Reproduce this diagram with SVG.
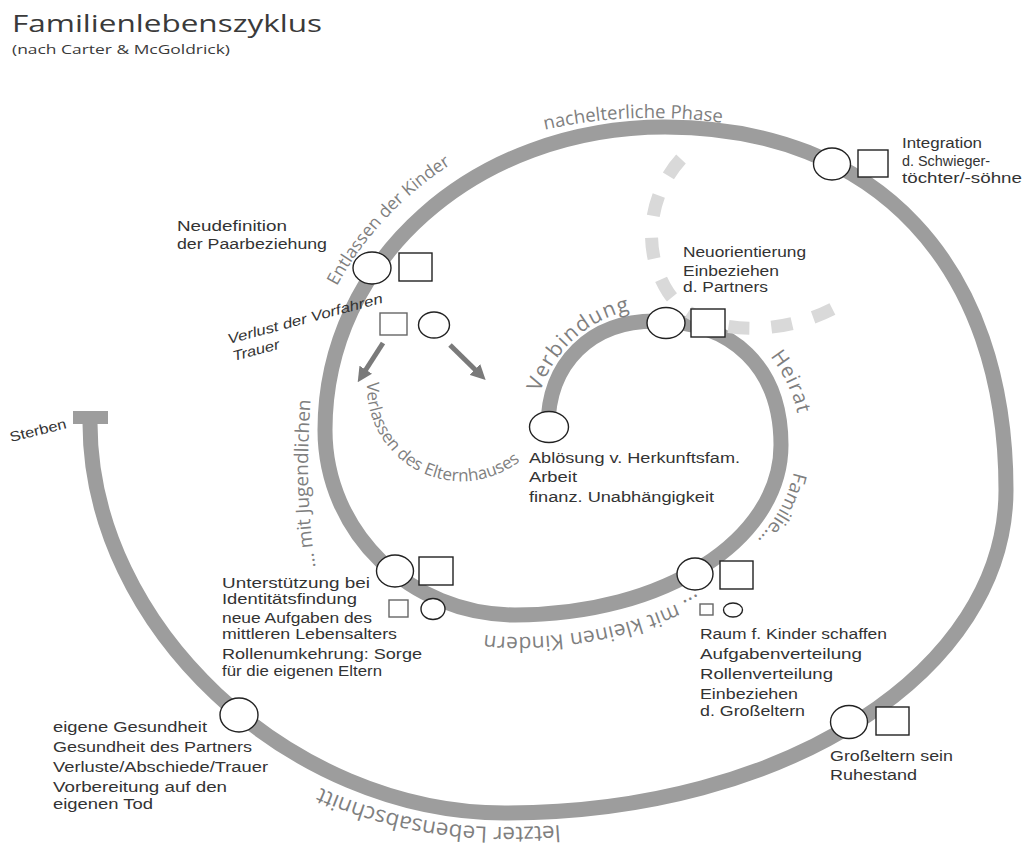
<svg xmlns="http://www.w3.org/2000/svg" width="1026" height="850" viewBox="0 0 1026 850">
<defs>
<style>
.sp{fill:none;stroke:#9d9d9d;stroke-width:15}
.dash{fill:none;stroke:#d9d9d9;stroke-width:13;stroke-dasharray:21 22}
.arr{stroke:#7a7a7a;stroke-width:5;fill:none}
.sym{fill:#fff;stroke:#222;stroke-width:1.4}
.sym2{fill:#fff;stroke:#666;stroke-width:1.4}
.t{font-family:"Liberation Sans",Arial,sans-serif;font-size:14px;fill:#333}
.c{font-family:"Open Sans","Liberation Sans",sans-serif;fill:#7f7f7f}
</style>
<marker id="ah" viewBox="0 0 10 10" refX="1" refY="5" markerWidth="3" markerHeight="3" orient="auto"><path d="M0,0 L10,5 L0,10 z" fill="#7a7a7a"/></marker>
<path id="pVerb" d="M 540.3 392.2 A 120 119 0 0 1 655 308"/>
<path id="pHeir" d="M 770 356.3 A 146 144 0 0 1 800.4 432.4"/>
<path id="pFam" d="M 793.9 472 A 282 186 0 0 1 731 564.6"/>
<path id="pKlein" d="M 707.7 587.7 A 288 192 0 0 1 515 637 A 212 207 0 0 1 393.4 599.5"/>
<path id="pJug" d="M 316 570 C 308 520, 305 460, 312 385"/>
<path id="pEntl" d="M 336.9 286.2 A 365 328 0 0 1 540.2 121.8"/>
<path id="pNach" d="M 540 131 Q 632 109 730 124"/>
<path id="pLetzt" d="M 560 825 A 515 337 0 0 1 505 827 A 429 404 0 0 1 300 778"/>
<path id="pVerl" d="M 367.2 380 A 94.5 94.5 0 0 0 538.8 441.1"/>
</defs>
<rect width="1026" height="850" fill="#fff"/>

<g id="title">
<text x="12" y="32" font-family="Open Sans, Liberation Sans, sans-serif" font-size="23" fill="#3a3a3a" textLength="310" lengthAdjust="spacingAndGlyphs">Familienlebenszyklus</text>
<text x="12" y="54" font-family="Open Sans, Liberation Sans, sans-serif" font-size="12.5" fill="#3a3a3a" textLength="218" lengthAdjust="spacingAndGlyphs">(nach Carter &amp; McGoldrick)</text>
</g>

<g id="connectors">
<path class="sp" d="M 548 427 C 548 363, 591 321, 655 321 C 733 321, 781 368, 781 445 C 781 540, 664 615, 515 615 C 410 615, 325 532, 325 430 C 325 260, 475 127, 665 127 C 876 127, 1006 265, 1006 490 C 1006 671, 786 813, 505 813 C 289 813, 90 626, 90 423"/>
<path class="dash" d="M 681 159 C 650 193, 640 248, 668 292 C 700 340, 790 338, 848 300"/>
<line class="arr" x1="383" y1="343" x2="365" y2="371" marker-end="url(#ah)"/>
<line class="arr" x1="450" y1="345" x2="476" y2="370.5" marker-end="url(#ah)"/>
</g>

<g id="phase-labels">
<text class="c" font-size="21" letter-spacing="1.4"><textPath href="#pVerb">Verbindung</textPath></text>
<text class="c" font-size="20.5" letter-spacing="1"><textPath href="#pHeir">Heirat</textPath></text>
<text class="c" font-size="19"><textPath href="#pFam">Familie...</textPath></text>
<text class="c" font-size="21" letter-spacing="0.3"><textPath href="#pKlein" startOffset="12">... mit kleinen Kindern</textPath></text>
<text class="c" font-size="19"><textPath href="#pJug" startOffset="3">... mit Jugendlichen</textPath></text>
<text class="c" font-size="17.5"><textPath href="#pEntl">Entlassen der Kinder</textPath></text>
<text class="c" font-size="18.5"><textPath href="#pNach" startOffset="5">nachelterliche Phase</textPath></text>
<text class="c" font-size="22.5"><textPath href="#pLetzt">letzter Lebensabschnitt</textPath></text>
<text class="c" font-size="17"><textPath href="#pVerl" startOffset="2">Verlassen des Elternhauses</textPath></text>
</g>

<g id="node-start">
<ellipse class="sym" cx="549" cy="427" rx="19.5" ry="15.5"/>
<text class="t" x="529" y="463" textLength="211" lengthAdjust="spacingAndGlyphs">Ablösung v. Herkunftsfam.</text>
<text class="t" x="529" y="482" textLength="48" lengthAdjust="spacingAndGlyphs">Arbeit</text>
<text class="t" x="529" y="502" textLength="185" lengthAdjust="spacingAndGlyphs">finanz. Unabhängigkeit</text>
</g>

<g id="node-verbindung">
<ellipse class="sym" cx="666" cy="323" rx="19" ry="15.5"/>
<rect class="sym" x="691" y="309" width="34" height="28"/>
<text class="t" x="683" y="257" textLength="123" lengthAdjust="spacingAndGlyphs">Neuorientierung</text>
<text class="t" x="683" y="276" textLength="96" lengthAdjust="spacingAndGlyphs">Einbeziehen</text>
<text class="t" x="683" y="292" textLength="85" lengthAdjust="spacingAndGlyphs">d. Partners</text>
</g>

<g id="node-kleine-kinder">
<ellipse class="sym" cx="695" cy="574" rx="18" ry="16"/>
<rect class="sym" x="720" y="561" width="33" height="28"/>
<rect class="sym2" x="700" y="604" width="13" height="11"/>
<ellipse class="sym" cx="733" cy="610" rx="9.5" ry="7"/>
<text class="t" x="700" y="639" textLength="187" lengthAdjust="spacingAndGlyphs">Raum f. Kinder schaffen</text>
<text class="t" x="700" y="659" textLength="162" lengthAdjust="spacingAndGlyphs">Aufgabenverteilung</text>
<text class="t" x="700" y="679" textLength="133" lengthAdjust="spacingAndGlyphs">Rollenverteilung</text>
<text class="t" x="700" y="699" textLength="98" lengthAdjust="spacingAndGlyphs">Einbeziehen</text>
<text class="t" x="700" y="716" textLength="105" lengthAdjust="spacingAndGlyphs">d. Großeltern</text>
</g>

<g id="node-jugendliche">
<ellipse class="sym" cx="395" cy="571" rx="18.5" ry="16"/>
<rect class="sym" x="419" y="557" width="34" height="28"/>
<rect class="sym2" x="389" y="600" width="19" height="17"/>
<ellipse class="sym" cx="433" cy="609" rx="12" ry="10.5"/>
<text class="t" x="222" y="588" textLength="148" lengthAdjust="spacingAndGlyphs">Unterstützung bei</text>
<text class="t" x="222" y="604" textLength="135" lengthAdjust="spacingAndGlyphs">Identitätsfindung</text>
<text class="t" x="222" y="623" textLength="150" lengthAdjust="spacingAndGlyphs">neue Aufgaben des</text>
<text class="t" x="222" y="639" textLength="175" lengthAdjust="spacingAndGlyphs">mittleren Lebensalters</text>
<text class="t" x="222" y="659" textLength="200" lengthAdjust="spacingAndGlyphs">Rollenumkehrung: Sorge</text>
<text class="t" x="222" y="676" textLength="160" lengthAdjust="spacingAndGlyphs">für die eigenen Eltern</text>
</g>

<g id="node-entlassen">
<ellipse class="sym" cx="372" cy="268" rx="19" ry="16"/>
<rect class="sym" x="399" y="253" width="33" height="28"/>
<text class="t" x="177" y="231" textLength="110" lengthAdjust="spacingAndGlyphs">Neudefinition</text>
<text class="t" x="177" y="249" textLength="150" lengthAdjust="spacingAndGlyphs">der Paarbeziehung</text>
</g>

<g id="node-vorfahren">
<rect class="sym2" x="380" y="313" width="27" height="22"/>
<ellipse class="sym" cx="434" cy="325" rx="15.5" ry="13"/>
<text class="t" font-style="italic" transform="translate(229,344) rotate(-15)" textLength="160" lengthAdjust="spacingAndGlyphs">Verlust der Vorfahren</text>
<text class="t" font-style="italic" transform="translate(234,361) rotate(-15)" textLength="48" lengthAdjust="spacingAndGlyphs">Trauer</text>
</g>

<g id="node-nachelterlich">
<ellipse class="sym" cx="832" cy="164" rx="18.5" ry="16"/>
<rect class="sym" x="858" y="150" width="30" height="27"/>
<text class="t" x="902" y="148" textLength="80" lengthAdjust="spacingAndGlyphs">Integration</text>
<text class="t" x="902" y="166" textLength="88" lengthAdjust="spacingAndGlyphs">d. Schwieger-</text>
<text class="t" x="902" y="183" textLength="120" lengthAdjust="spacingAndGlyphs">töchter/-söhne</text>
</g>

<g id="node-grosseltern">
<ellipse class="sym" cx="849" cy="722" rx="18.5" ry="16.5"/>
<rect class="sym" x="876" y="707" width="33" height="28"/>
<text class="t" x="830" y="761" textLength="123" lengthAdjust="spacingAndGlyphs">Großeltern sein</text>
<text class="t" x="830" y="780" textLength="87" lengthAdjust="spacingAndGlyphs">Ruhestand</text>
</g>

<g id="node-letzter">
<ellipse class="sym" cx="239" cy="715" rx="19" ry="17"/>
<text class="t" x="53" y="732" textLength="154" lengthAdjust="spacingAndGlyphs">eigene Gesundheit</text>
<text class="t" x="53" y="752" textLength="199" lengthAdjust="spacingAndGlyphs">Gesundheit des Partners</text>
<text class="t" x="53" y="772" textLength="215" lengthAdjust="spacingAndGlyphs">Verluste/Abschiede/Trauer</text>
<text class="t" x="53" y="792" textLength="174" lengthAdjust="spacingAndGlyphs">Vorbereitung auf den</text>
<text class="t" x="53" y="809" textLength="100" lengthAdjust="spacingAndGlyphs">eigenen Tod</text>
</g>

<g id="node-sterben">
<rect x="73" y="411" width="35" height="13" fill="#9d9d9d"/>
<text class="t" font-size="13" transform="translate(11,442) rotate(-14)" textLength="58" lengthAdjust="spacingAndGlyphs">Sterben</text>
</g>
</svg>
